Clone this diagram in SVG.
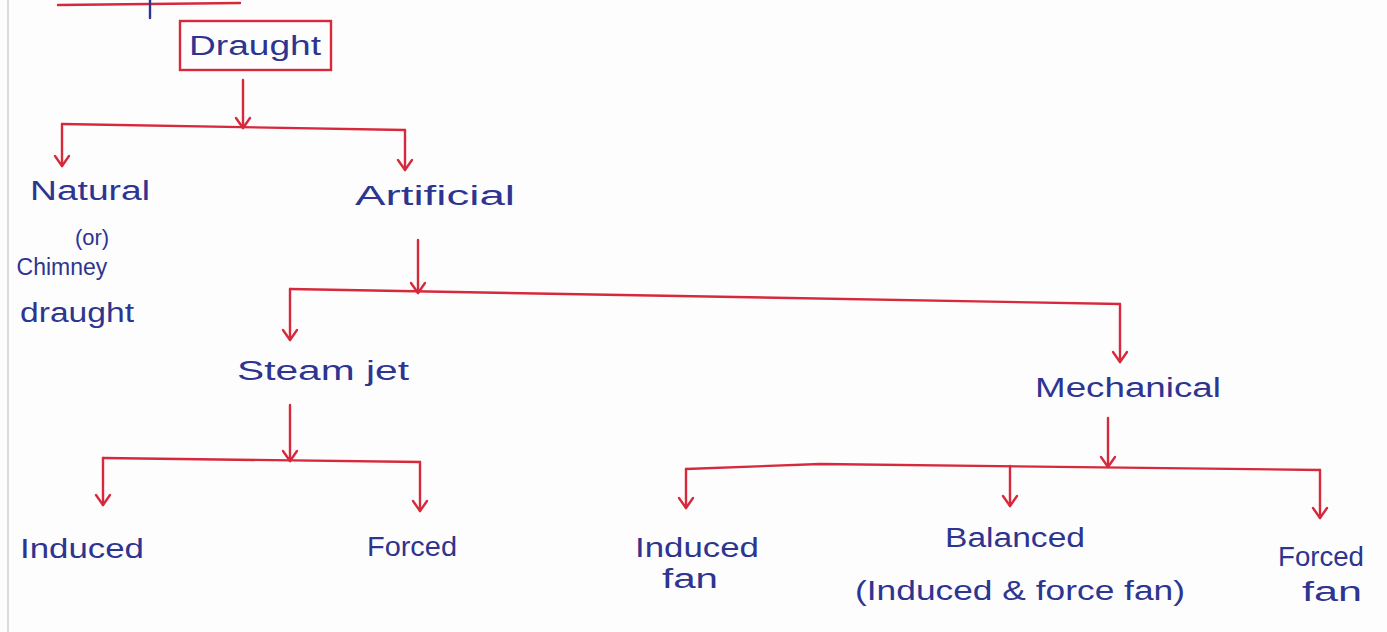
<svg xmlns="http://www.w3.org/2000/svg" width="1387" height="632" viewBox="0 0 1387 632">
  <defs>
    <marker id="vhead" viewBox="-12 -9 14 18" refX="0" refY="0" markerWidth="14" markerHeight="18" markerUnits="userSpaceOnUse" orient="auto">
      <path d="M-10,-7 L0,0 L-10,7" fill="none" stroke="#d62a3c" stroke-width="2.4" stroke-linecap="round" stroke-linejoin="round"/>
    </marker>
  </defs>
  <style>
    .ink { font-family: "Liberation Sans", "DejaVu Sans", sans-serif; font-size: 27px; fill: #2d3590; }
    .wire { fill: none; stroke: #d62a3c; stroke-width: 2.4; stroke-linecap: round; stroke-linejoin: round; }
    .arrow { fill: none; stroke: #d62a3c; stroke-width: 2.4; stroke-linecap: round; marker-end: url(#vhead); }
  </style>

  <!-- paper -->
  <rect x="0" y="0" width="1387" height="632" fill="#fdfdfd"/>
  <line x1="8" y1="0" x2="8" y2="632" stroke="#dcdcdc" stroke-width="2"/>

  <!-- heading fragments along the top edge -->
  <path d="M58,5 L240,3" class="wire"/>
  <path d="M150,0 L150,18" fill="none" stroke="#2d3590" stroke-width="2.4" stroke-linecap="round"/>

  <!-- connectors -->
  <g id="connectors">
    <!-- Draught -->
    <path class="arrow" d="M243,80 L243,128"/>
    <path class="wire" d="M62,124 L405,130"/>
    <path class="arrow" d="M62,124 L62,166"/>
    <path class="arrow" d="M405,130 L405,170"/>
    <!-- Artificial -->
    <path class="arrow" d="M418,240 L418,293"/>
    <path class="wire" d="M290,289 L1120,304"/>
    <path class="arrow" d="M290,289 L290,340"/>
    <path class="arrow" d="M1120,304 L1120,362"/>
    <!-- Steam jet -->
    <path class="arrow" d="M290,405 L290,461"/>
    <path class="wire" d="M103,458 L420,462"/>
    <path class="arrow" d="M103,458 L103,505"/>
    <path class="arrow" d="M420,462 L420,511"/>
    <!-- Mechanical -->
    <path class="arrow" d="M1108,418 L1108,467"/>
    <path class="wire" d="M686,469 L820,464 L1320,470"/>
    <path class="arrow" d="M686,469 L686,508"/>
    <path class="arrow" d="M1010,466 L1010,506"/>
    <path class="arrow" d="M1320,470 L1320,518"/>
  </g>

  <g id="node-draught">
    <rect x="180" y="21" width="151" height="49" fill="none" stroke="#d62a3c" stroke-width="2.4"/>
    <text class="ink" x="255" y="55" text-anchor="middle" textLength="132" lengthAdjust="spacingAndGlyphs">Draught</text>
  </g>

  <g id="node-natural">
    <text class="ink" x="90" y="200" text-anchor="middle" textLength="120" lengthAdjust="spacingAndGlyphs">Natural</text>
    <text class="ink" x="92" y="245" text-anchor="middle" style="font-size:22px">(or)</text>
    <text class="ink" x="62" y="275" text-anchor="middle" style="font-size:23px">Chimney</text>
    <text class="ink" x="77" y="322" text-anchor="middle" textLength="114" lengthAdjust="spacingAndGlyphs">draught</text>
  </g>

  <g id="node-artificial">
    <text class="ink" x="435" y="205" text-anchor="middle" textLength="160" lengthAdjust="spacingAndGlyphs">Artificial</text>
  </g>

  <g id="node-steam-jet">
    <text class="ink" x="323" y="380" text-anchor="middle" textLength="172" lengthAdjust="spacingAndGlyphs">Steam jet</text>
  </g>

  <g id="node-mechanical">
    <text class="ink" x="1128" y="397" text-anchor="middle" textLength="186" lengthAdjust="spacingAndGlyphs">Mechanical</text>
  </g>

  <g id="node-steam-induced">
    <text class="ink" x="82" y="558" text-anchor="middle" textLength="124" lengthAdjust="spacingAndGlyphs">Induced</text>
  </g>

  <g id="node-steam-forced">
    <text class="ink" x="412" y="556" text-anchor="middle" textLength="90" lengthAdjust="spacingAndGlyphs">Forced</text>
  </g>

  <g id="node-induced-fan">
    <text class="ink" x="697" y="557" text-anchor="middle" textLength="124" lengthAdjust="spacingAndGlyphs">Induced</text>
    <text class="ink" x="690" y="588" text-anchor="middle" textLength="56" lengthAdjust="spacingAndGlyphs">fan</text>
  </g>

  <g id="node-balanced">
    <text class="ink" x="1015" y="547" text-anchor="middle" textLength="140" lengthAdjust="spacingAndGlyphs">Balanced</text>
    <text class="ink" x="1020" y="600" text-anchor="middle" textLength="330" lengthAdjust="spacingAndGlyphs">(Induced &amp; force fan)</text>
  </g>

  <g id="node-forced-fan">
    <text class="ink" x="1321" y="566" text-anchor="middle" textLength="86" lengthAdjust="spacingAndGlyphs">Forced</text>
    <text class="ink" x="1332" y="601" text-anchor="middle" textLength="60" lengthAdjust="spacingAndGlyphs">fan</text>
  </g>
</svg>
